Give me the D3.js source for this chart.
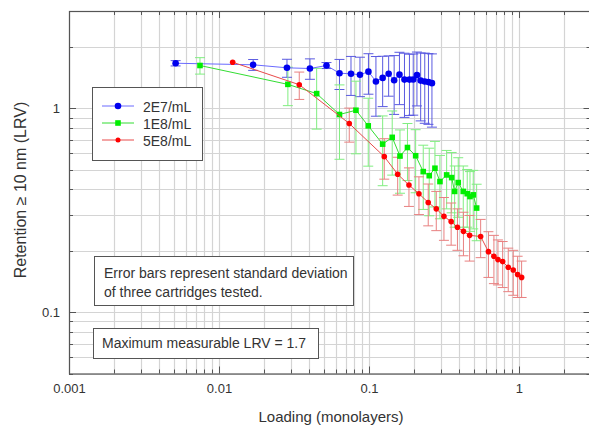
<!DOCTYPE html>
<html><head><meta charset="utf-8">
<script src="https://cdn.jsdelivr.net/npm/d3@7"></script>
<style>body{margin:0;background:#fff}svg{display:block;font-family:"Liberation Sans",Arial,sans-serif}</style>
</head><body><svg id="c" width="589" height="430"></svg>
<script>
// Data (Loading in monolayers, Retention LRV, standard deviation)
const blueX = [0.00514,0.0169,0.0284,0.0404,0.0521,0.0636,0.0759,0.0871,0.0992,0.1113,0.1234,0.1353,0.1472,0.1597,0.1725,0.1862,0.1973,0.2089,0.2212,0.2355,0.2493,0.263];
const blueY = [1.663,1.634,1.579,1.567,1.621,1.486,1.476,1.460,1.512,1.354,1.409,1.476,1.373,1.462,1.382,1.382,1.385,1.457,1.367,1.354,1.344,1.328];
const blueSD = [0.05,0.1,0.16,0.18,0.055,0.25,0.32,0.32,0.34,0.44,0.39,0.33,0.44,0.42,0.48,0.46,0.46,0.43,0.5,0.51,0.51,0.52];

const greenX = [0.00747,0.0288,0.0448,0.0636,0.0819,0.0989,0.1234,0.1429,0.161,0.1806,0.2048,0.2301,0.2523,0.2754,0.2974,0.3296,0.3558,0.3726,0.3938,0.4253,0.4521,0.4715,0.4958,0.5224];
const greenY = [1.621,1.310,1.180,0.932,0.978,0.820,0.667,0.720,0.583,0.642,0.585,0.489,0.467,0.508,0.437,0.471,0.457,0.391,0.432,0.391,0.381,0.369,0.376,0.324];
const greenSD = [0.15,0.28,0.39,0.37,0.38,0.3,0.25,0.25,0.2,0.2,0.2,0.17,0.17,0.18,0.15,0.15,0.15,0.13,0.14,0.13,0.12,0.12,0.12,0.1];

const redX = [0.01234,0.0343,0.0739,0.1265,0.1554,0.1848,0.2154,0.2484,0.2811,0.3162,0.3532,0.389,0.4266,0.469,0.5555,0.626,0.681,0.7244,0.7787,0.8485,0.9163,0.980,1.042];
const redY = [1.682,1.305,0.842,0.579,0.475,0.420,0.381,0.345,0.321,0.295,0.278,0.261,0.249,0.238,0.235,0.198,0.188,0.181,0.177,0.166,0.161,0.153,0.148];
const redSD = [0,0.2,0.16,0.13,0.1,0.09,0.08,0.08,0.07,0.07,0.065,0.06,0.06,0.06,0.05,0.05,0.05,0.045,0.045,0.04,0.04,0.035,0.03];

const seriesNames = ["2E7/mL","1E8/mL","5E8/mL"];
const xTickValues = [0.001,0.01,0.1,1];
const xTickLabels = ["0.001","0.01","0.1","1"];
const yTickValues = [0.1,1];
const yTickLabels = ["0.1","1"];
const xTitle = "Loading (monolayers)";
const yTitle = "Retention \u2265 10 nm (LRV)";
const note1 = ["Error bars represent standard deviation","of three cartridges tested."];
const note2 = "Maximum measurable LRV = 1.7";

const svg = d3.select("#c");
const L=69, R=590.5, T=11, B=373.5;
const x = d3.scaleLog().domain([0.001,3]).range([L,R]);
const y = d3.scaleLog().domain([0.05,3]).range([B,T]);

// grid values
const xGrid=[], yGrid=[];
for (let e=-3;e<=0;e++) for (let m=1;m<=9;m++){const v=m*Math.pow(10,e); xGrid.push(v);}
xGrid.push(10,20,30);
const xGridF = xGrid.map(v=>v/10).filter(v=>v>=0.001 && v<=3.0001);
for (let e=-2;e<=0;e++) for (let m=1;m<=9;m++){const v=m*Math.pow(10,e); if(v>=0.05&&v<=3.0001) yGrid.push(v);}

const g = svg.append("g");
g.selectAll(".gx").data(xGridF).enter().append("line")
 .attr("x1",d=>Math.round(x(d))+0.5).attr("x2",d=>Math.round(x(d))+0.5).attr("y1",T).attr("y2",B)
 .attr("stroke","#d4d4d4").attr("stroke-width",1.2);
g.selectAll(".gy").data(yGrid).enter().append("line")
 .attr("y1",d=>Math.round(y(d))+0.5).attr("y2",d=>Math.round(y(d))+0.5).attr("x1",L).attr("x2",R)
 .attr("stroke","#d4d4d4").attr("stroke-width",1.2);

// inward ticks on all four sides
const isMajor = v => Math.abs(Math.log10(v)-Math.round(Math.log10(v)))<1e-6;
const tickG = svg.append("g");
xGridF.forEach(v=>{
  const len = isMajor(v)?7:4, px=Math.round(x(v))+0.5;
  tickG.append("line").attr("x1",px).attr("x2",px).attr("y1",B).attr("y2",B-len).attr("stroke","#555");
  tickG.append("line").attr("x1",px).attr("x2",px).attr("y1",T).attr("y2",T+len).attr("stroke","#555");
});
yGrid.forEach(v=>{
  const len = isMajor(v)?7:4, py=Math.round(y(v))+0.5;
  tickG.append("line").attr("y1",py).attr("y2",py).attr("x1",L).attr("x2",L+len).attr("stroke","#555");
  tickG.append("line").attr("y1",py).attr("y2",py).attr("x1",R).attr("x2",R-len).attr("stroke","#555");
});
svg.append("rect").attr("x",L+0.5).attr("y",T+0.5).attr("width",R-L).attr("height",B-T)
 .attr("fill","none").attr("stroke","#555").attr("stroke-width",1.2);

// tick labels via d3 axis generators
const xa = svg.append("g").attr("transform",`translate(0,${B})`)
 .call(d3.axisBottom(x).tickValues(xTickValues).tickSize(0).tickPadding(10).tickFormat((d,i)=>xTickLabels[i]));
xa.select(".domain").remove();
xa.selectAll("text").attr("font-size",13).attr("fill","#333").attr("font-family","Liberation Sans, Arial, sans-serif");
const ya = svg.append("g").attr("transform",`translate(${L},0)`)
 .call(d3.axisLeft(y).tickValues(yTickValues).tickSize(0).tickPadding(9).tickFormat((d,i)=>yTickLabels[i]));
ya.select(".domain").remove();
ya.selectAll("text").attr("font-size",13).attr("fill","#333").attr("font-family","Liberation Sans, Arial, sans-serif");

svg.append("text").attr("x",331).attr("y",422).attr("text-anchor","middle").attr("font-size",15).attr("fill","#333").text(xTitle);
svg.append("text").attr("transform","translate(26,190) rotate(-90)").attr("text-anchor","middle").attr("font-size",16).attr("fill","#333").text(yTitle);

// series
const series = [
 {xs:blueX, ys:blueY, sd:blueSD, line:"#6a6aff", bar:"#5a5ae0", mark:"#0000ee", shape:"circle", r:3.3},
 {xs:greenX, ys:greenY, sd:greenSD, line:"#33dd33", bar:"#80ee80", mark:"#00ee00", shape:"square", r:2.8},
 {xs:redX, ys:redY, sd:redSD, line:"#e84a4a", bar:"#e88080", mark:"#ff0000", shape:"circle", r:2.8}
];
const plot = svg.append("g");
series.forEach(s=>{
  const pts = s.xs.map((v,i)=>({x:v,y:s.ys[i],sd:s.sd[i]}));
  const eg = plot.append("g").attr("stroke",s.bar).attr("stroke-width",1);
  pts.filter(p=>p.sd>0).forEach(p=>{
    const px=x(p.x), y1=y(p.y+p.sd), y2=y(Math.max(p.y-p.sd,0.051));
    eg.append("line").attr("x1",px).attr("x2",px).attr("y1",y1).attr("y2",y2);
    eg.append("line").attr("x1",px-5).attr("x2",px+5).attr("y1",y1).attr("y2",y1);
    eg.append("line").attr("x1",px-5).attr("x2",px+5).attr("y1",y2).attr("y2",y2);
  });
});
series.forEach(s=>{
  const pts = s.xs.map((v,i)=>({x:v,y:s.ys[i]}));
  plot.append("path").datum(pts).attr("fill","none").attr("stroke",s.line).attr("stroke-width",1)
   .attr("d",d3.line().x(d=>x(d.x)).y(d=>y(d.y)));
  const mg = plot.append("g").attr("fill",s.mark);
  if (s.shape==="circle") mg.selectAll("circle").data(pts).enter().append("circle")
    .attr("cx",d=>x(d.x)).attr("cy",d=>y(d.y)).attr("r",s.r);
  else mg.selectAll("rect").data(pts).enter().append("rect")
    .attr("x",d=>x(d.x)-s.r).attr("y",d=>y(d.y)-s.r).attr("width",2*s.r).attr("height",2*s.r);
});

// legend
const lg = svg.append("g");
lg.append("rect").attr("x",92.5).attr("y",87.5).attr("width",110).attr("height",73).attr("fill","#fff").attr("stroke","#555");
const rows=[106,123,140];
series.forEach((s,i)=>{
  lg.append("line").attr("x1",102).attr("x2",134).attr("y1",rows[i]).attr("y2",rows[i]).attr("stroke",s.line);
  if (s.shape==="circle") lg.append("circle").attr("cx",118).attr("cy",rows[i]).attr("r",i===2?2.5:3.3).attr("fill",s.mark);
  else lg.append("rect").attr("x",118-s.r).attr("y",rows[i]-s.r).attr("width",2*s.r).attr("height",2*s.r).attr("fill",s.mark);
  lg.append("text").attr("x",143).attr("y",rows[i]+5.5).attr("font-size",14).attr("fill","#333").text(seriesNames[i]);
});

// note boxes
svg.append("rect").attr("x",94.5).attr("y",256.5).attr("width",259).attr("height",49).attr("fill","#fff").attr("stroke","#555");
note1.forEach((t,i)=>svg.append("text").attr("x",104).attr("y",278+i*18.5).attr("font-size",14).attr("fill","#333").text(t));
svg.append("rect").attr("x",93.5).attr("y",328.5).attr("width",225).attr("height",30).attr("fill","#fff").attr("stroke","#555");
svg.append("text").attr("x",102).attr("y",348).attr("font-size",14).attr("fill","#333").text(note2);
</script></body></html>
